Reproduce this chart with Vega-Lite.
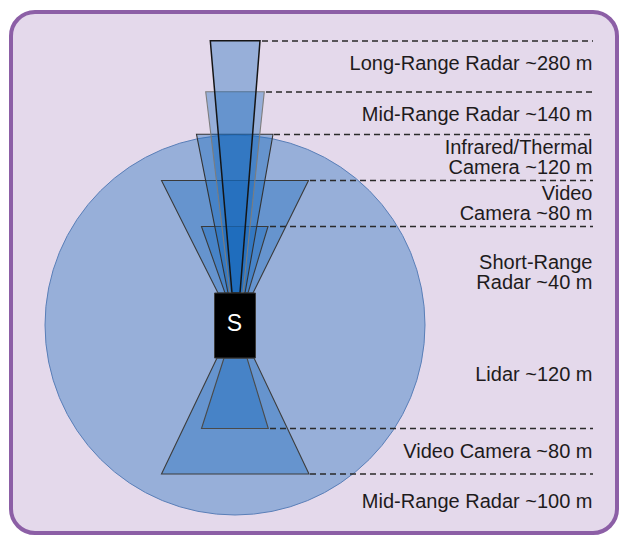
{
  "$schema": "https://vega.github.io/schema/vega-lite/v6.json",
  "width": 620,
  "height": 535,
  "padding": 0,
  "autosize": {"type": "fit", "contains": "padding"},
  "background": "white",
  "config": {"view": {"stroke": null}, "font": "Liberation Sans"},
  "datasets": {
    "frame": [{"left": 11, "right": 617, "top": 12, "bottom": 533}],
    "lidar": [{"sensor": "Lidar", "cx": 235, "cy": 325}],
    "fov": [
      {"sensor": "Video Camera (front)", "y": 293, "xl": 218, "xr": 253},
      {"sensor": "Video Camera (front)", "y": 180.5, "xl": 161.5, "xr": 308.5},
      {"sensor": "Short-Range Radar", "y": 293, "xl": 225, "xr": 248},
      {"sensor": "Short-Range Radar", "y": 226.5, "xl": 201.5, "xr": 268},
      {"sensor": "Infrared/Thermal Camera", "y": 293, "xl": 228, "xr": 245},
      {"sensor": "Infrared/Thermal Camera", "y": 134.3, "xl": 196.5, "xr": 273},
      {"sensor": "Mid-Range Radar (front)", "y": 293, "xl": 230, "xr": 243},
      {"sensor": "Mid-Range Radar (front)", "y": 91.7, "xl": 205.7, "xr": 264.3},
      {"sensor": "Long-Range Radar", "y": 293, "xl": 232, "xr": 240},
      {"sensor": "Long-Range Radar", "y": 40.7, "xl": 210.3, "xr": 260},
      {"sensor": "Mid-Range Radar (rear)", "y": 358, "xl": 217, "xr": 254},
      {"sensor": "Mid-Range Radar (rear)", "y": 474, "xl": 161.5, "xr": 309},
      {"sensor": "Video Camera (rear)", "y": 358, "xl": 224, "xr": 247},
      {"sensor": "Video Camera (rear)", "y": 428.5, "xl": 201.5, "xr": 268.3}
    ],
    "leaders": [
      {"y": 41, "start": 262, "end": 593},
      {"y": 92, "start": 266, "end": 593},
      {"y": 134.5, "start": 274, "end": 593},
      {"y": 180.5, "start": 310, "end": 593},
      {"y": 226.5, "start": 270, "end": 593},
      {"y": 428.5, "start": 270, "end": 593},
      {"y": 474, "start": 310, "end": 593}
    ],
    "car": [{"left": 214.5, "right": 255.5, "top": 293, "bottom": 358, "cx": 234.5, "cy": 323.5, "name": "S"}],
    "labels": [
      {"label": "Long-Range Radar ~280 m", "x": 592.5, "y": 70},
      {"label": "Mid-Range Radar ~140 m", "x": 592.5, "y": 120.7},
      {"label": "Infrared/Thermal\nCamera ~120 m", "x": 592.5, "y": 154},
      {"label": "Video\nCamera ~80 m", "x": 592.5, "y": 200},
      {"label": "Short-Range\nRadar ~40 m", "x": 592.5, "y": 269.3},
      {"label": "Lidar ~120 m", "x": 592.5, "y": 380.7},
      {"label": "Video Camera ~80 m", "x": 592.5, "y": 458.3},
      {"label": "Mid-Range Radar ~100 m", "x": 592.5, "y": 508.3}
    ]
  },
  "layer": [
    {
      "data": {"name": "frame"},
      "mark": {"type": "rect", "fill": "#E4D9EB", "stroke": "#8C5FA6", "strokeWidth": 4, "cornerRadius": 24},
      "encoding": {
        "x": {"field": "left", "type": "quantitative", "scale": {"domain": [0, 620], "nice": false, "zero": false}, "axis": null},
        "x2": {"field": "right"},
        "y": {"field": "top", "type": "quantitative", "scale": {"domain": [0, 535], "nice": false, "zero": false, "reverse": true}, "axis": null},
        "y2": {"field": "bottom"}
      }
    },
    {
      "data": {"name": "lidar"},
      "mark": {"type": "point", "shape": "circle", "filled": true, "size": 144400, "fill": "#1366BC", "fillOpacity": 0.37, "stroke": "#5A7FB8", "strokeWidth": 1, "strokeOpacity": 1, "opacity": 1},
      "encoding": {
        "x": {"field": "cx", "type": "quantitative"},
        "y": {"field": "cy", "type": "quantitative"}
      }
    },
    {
      "data": {"name": "fov"},
      "transform": [{"filter": "datum.sensor !== 'Long-Range Radar'"}],
      "mark": {"type": "area", "orient": "horizontal", "fill": "#1366BC", "fillOpacity": 0.37, "strokeWidth": 1.1},
      "encoding": {
        "y": {"field": "y", "type": "quantitative"},
        "x": {"field": "xl", "type": "quantitative", "stack": null},
        "x2": {"field": "xr"},
        "stroke": {
          "field": "sensor", "type": "nominal", "legend": null,
          "scale": {
            "domain": ["Video Camera (front)", "Short-Range Radar", "Infrared/Thermal Camera", "Mid-Range Radar (front)", "Mid-Range Radar (rear)", "Video Camera (rear)"],
            "range": ["#3a3a3a", "#3a3a3a", "#333333", "#7d7d7d", "#3d3d3d", "#4a4a4a"]
          }
        }
      }
    },
    {
      "data": {"name": "fov"},
      "transform": [{"filter": "datum.sensor === 'Long-Range Radar'"}],
      "mark": {"type": "area", "orient": "horizontal", "fill": "#1366BC", "fillOpacity": 0.37, "stroke": "#151515", "strokeWidth": 1.5},
      "encoding": {
        "y": {"field": "y", "type": "quantitative"},
        "x": {"field": "xl", "type": "quantitative", "stack": null},
        "x2": {"field": "xr"}
      }
    },
    {
      "data": {"name": "leaders"},
      "mark": {"type": "rule", "stroke": "#2a2a2a", "strokeWidth": 1.4, "strokeDash": [6, 4]},
      "encoding": {
        "x": {"field": "start", "type": "quantitative"},
        "x2": {"field": "end"},
        "y": {"field": "y", "type": "quantitative"}
      }
    },
    {
      "data": {"name": "car"},
      "mark": {"type": "rect", "fill": "#000000", "stroke": "#3a3a3a", "strokeWidth": 1},
      "encoding": {
        "x": {"field": "left", "type": "quantitative"},
        "x2": {"field": "right"},
        "y": {"field": "top", "type": "quantitative"},
        "y2": {"field": "bottom"}
      }
    },
    {
      "data": {"name": "car"},
      "mark": {"type": "text", "color": "#FFFFFF", "fontSize": 23, "align": "center", "baseline": "middle", "font": "Liberation Sans"},
      "encoding": {
        "x": {"field": "cx", "type": "quantitative"},
        "y": {"field": "cy", "type": "quantitative"},
        "text": {"field": "name"}
      }
    },
    {
      "data": {"name": "labels"},
      "mark": {"type": "text", "color": "#1E1B1C", "fontSize": 20, "align": "right", "baseline": "alphabetic", "lineBreak": "\n", "lineHeight": 20, "font": "Liberation Sans"},
      "encoding": {
        "x": {"field": "x", "type": "quantitative"},
        "y": {"field": "y", "type": "quantitative"},
        "text": {"field": "label"}
      }
    }
  ]
}
